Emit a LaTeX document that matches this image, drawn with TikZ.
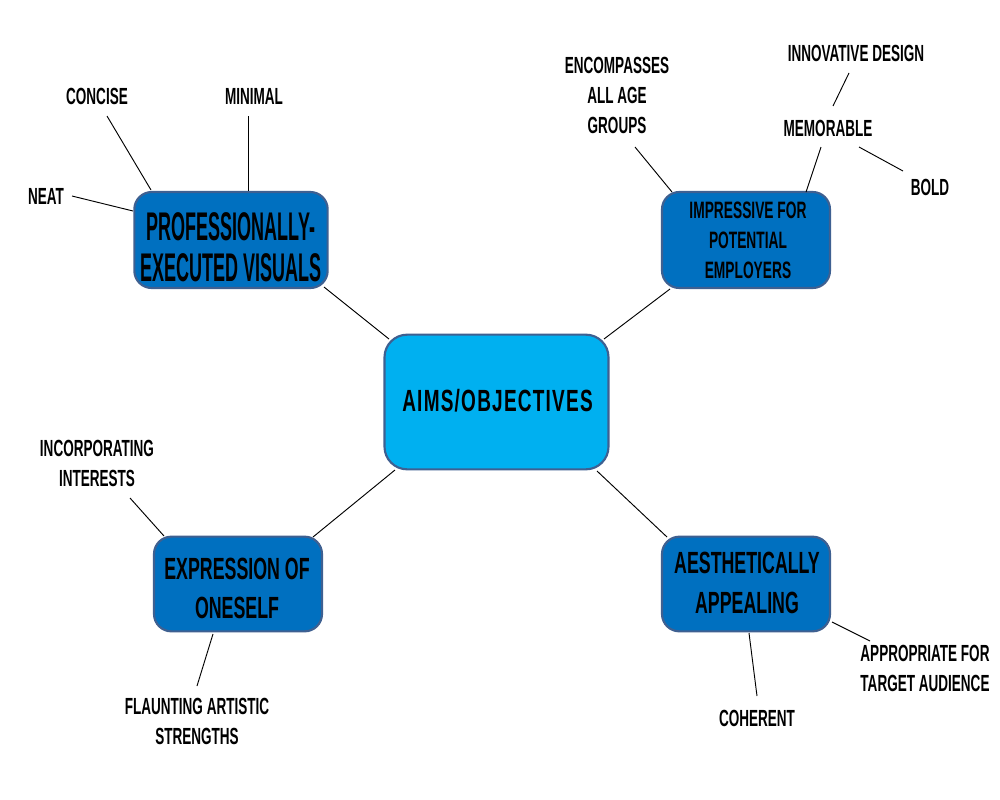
\documentclass[tikz,border=0pt]{standalone}
\usepackage{fontspec}
\usetikzlibrary{calc}
\newfontfamily\fA[FakeStretch=0.58]{Liberation Sans Bold}
\newfontfamily\fP[FakeStretch=0.45]{Liberation Sans Bold}
\newfontfamily\fC[FakeStretch=0.62,LetterSpace=4]{Liberation Sans Bold}
\definecolor{cmain}{HTML}{00B0F0}
\definecolor{csub}{HTML}{0070C0}
\definecolor{cedge}{RGB}{62,96,145}
\begin{document}
\begin{tikzpicture}[x=0.75pt,y=-0.75pt,
  mainbox/.style={draw=cedge,line width=1.6pt,fill=cmain,rounded corners=17pt,minimum width=168pt,minimum height=101pt,inner sep=0pt},
  subbox/.style={draw=cedge,line width=1.6pt,fill=csub,rounded corners=13pt,inner sep=0pt},
  boxtext/.style={align=center,inner sep=0pt,text=black},
  leaf/.style={align=center,inner sep=0pt,font=\fA\fontsize{17.5}{22.5}\selectfont,text=black},
  conn/.style={draw=black,line width=0.7pt}]
\useasboundingbox (0,0) rectangle (1000,800);
\fill[white] (0,0) rectangle (1000,800);
% boxes
\node[mainbox] (c) at (496.5,402) {};
\node[subbox,minimum width=145pt,minimum height=72pt] (pb) at (231,240) {};
\node[subbox,minimum width=126pt,minimum height=72pt] (ib) at (746,240) {};
\node[subbox,minimum width=126pt,minimum height=71pt] (eb) at (238,584) {};
\node[subbox,minimum width=126pt,minimum height=71pt] (ab) at (746,584) {};
% box texts
\node[boxtext,font=\fC\fontsize{23}{29}\selectfont] (ct) at (497.5,401) {AIMS/OBJECTIVES};
\node[boxtext,font=\fP\fontsize{30}{30.75}\selectfont] (pt) at (231,247.5) {PROFESSIONALLY-\\EXECUTED VISUALS};
\node[boxtext,font=\fA\fontsize{17.8}{22.5}\selectfont] (it) at (748,240) {IMPRESSIVE FOR\\POTENTIAL\\EMPLOYERS};
\node[boxtext,font=\fA\fontsize{23}{29.25}\selectfont] (et) at (237,588.5) {EXPRESSION OF\\ONESELF};
\node[boxtext,font=\fA\fontsize{23}{30}\selectfont] (at) at (747,583) {AESTHETICALLY\\APPEALING};
% leaves
\node[leaf] (concise) at (97,96) {CONCISE};
\node[leaf] (minimal) at (254,96) {MINIMAL};
\node[leaf] (neat) at (46,196) {NEAT};
\node[leaf] (encomp) at (617,95) {ENCOMPASSES\\ALL AGE\\GROUPS};
\node[leaf] (innov) at (856,53) {INNOVATIVE DESIGN};
\node[leaf] (memor) at (828,128) {MEMORABLE};
\node[leaf] (bold) at (930,187) {BOLD};
\node[leaf] (incorp) at (97,463) {INCORPORATING\\INTERESTS};
\node[leaf] (flaunt) at (197,721.5) {FLAUNTING ARTISTIC\\STRENGTHS};
\node[leaf] (approp) at (925,668) {APPROPRIATE FOR\\TARGET AUDIENCE};
\node[leaf] (coher) at (757,718) {COHERENT};
% connectors
\draw[conn] ($(c)+(-107.5,-63)$) -- ($(pb)+(93,47)$);
\draw[conn] ($(c)+(107.5,-63)$) -- ($(ib)+(-76,49)$);
\draw[conn] ($(c)+(-101.5,68)$) -- ($(eb)+(75,-47)$);
\draw[conn] ($(c)+(100.5,69)$) -- ($(ab)+(-79,-47)$);
\draw[conn] ($(concise)+(10,20)$) -- ($(pb)+(-80,-50)$);
\draw[conn] ($(minimal)+(-6,20)$) -- ($(pb)+(17,-49)$);
\draw[conn] ($(neat)+(26,0)$) -- ($(pb)+(-98,-29)$);
\draw[conn] ($(encomp)+(18,52)$) -- ($(ib)+(-74,-48)$);
\draw[conn] ($(memor)+(-7,19)$) -- ($(ib)+(60,-48)$);
\draw[conn] ($(innov)+(-7,20)$) -- ($(memor)+(5,-22)$);
\draw[conn] ($(memor)+(31,19)$) -- ($(bold)+(-27,-16)$);
\draw[conn] ($(incorp)+(33,35)$) -- ($(eb)+(-74,-48)$);
\draw[conn] ($(flaunt)+(0,-35.5)$) -- ($(eb)+(-25,50)$);
\draw[conn] ($(approp)+(-55,-27)$) -- ($(ab)+(86,38)$);
\draw[conn] ($(coher)+(0,-22)$) -- ($(ab)+(3,49)$);
\end{tikzpicture}
\end{document}
